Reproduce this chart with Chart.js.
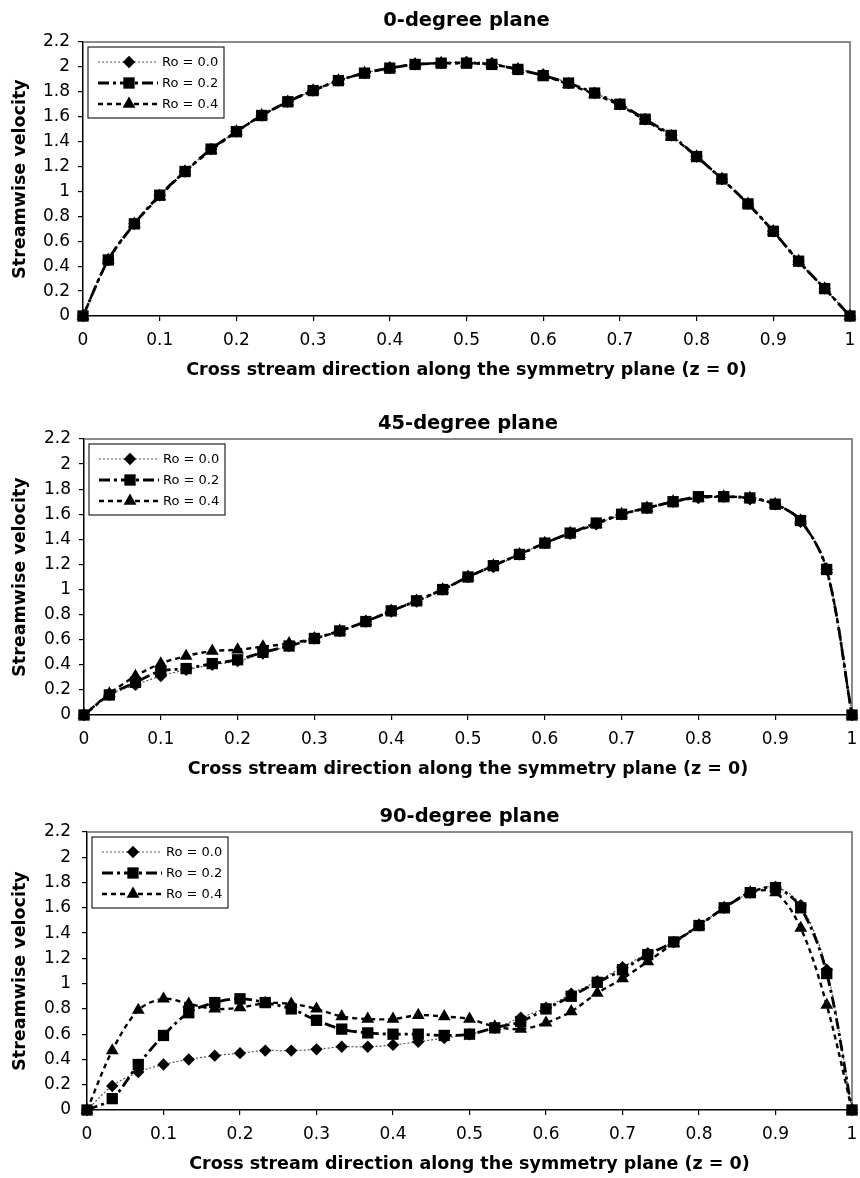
<!DOCTYPE html>
<html>
<head>
<meta charset="utf-8">
<script src="https://cdn.jsdelivr.net/npm/chart.js@4.4.1/dist/chart.umd.min.js"></script>
<style>
  html, body { margin: 0; padding: 0; background: #fff; }
  .panel { position: absolute; left: 0; width: 860px; }
</style>
</head>
<body>
<div class="panel" style="top:0"><canvas id="deg0" width="860" height="392"></canvas></div>
<div class="panel" style="top:392px"><canvas id="deg45" width="860" height="394"></canvas></div>
<div class="panel" style="top:786px"><canvas id="deg90" width="860" height="392"></canvas></div>
<script>
// cross stream positions (z) of the sampled points
const zPos = [0, 0.033, 0.067, 0.1, 0.133, 0.167, 0.2, 0.233, 0.267, 0.3, 0.333, 0.367, 0.4, 0.433, 0.467,
  0.5, 0.533, 0.567, 0.6, 0.633, 0.667, 0.7, 0.733, 0.767, 0.8, 0.833, 0.867, 0.9, 0.933, 0.967, 1];

const roLabels = ['Ro = 0.0', 'Ro = 0.2', 'Ro = 0.4'];

// 0-degree plane
const deg0Ro00 = [0, 0.45, 0.74, 0.97, 1.16, 1.34, 1.48, 1.61, 1.72, 1.81, 1.89, 1.95, 1.99, 2.02, 2.03,
  2.04, 2.03, 1.98, 1.94, 1.87, 1.79, 1.70, 1.58, 1.45, 1.28, 1.10, 0.90, 0.68, 0.44, 0.22, 0];
const deg0Ro02 = [0, 0.45, 0.74, 0.97, 1.16, 1.34, 1.48, 1.61, 1.72, 1.81, 1.89, 1.95, 1.99, 2.02, 2.03,
  2.03, 2.02, 1.98, 1.93, 1.87, 1.79, 1.70, 1.58, 1.45, 1.28, 1.10, 0.90, 0.68, 0.44, 0.22, 0];
const deg0Ro04 = [0, 0.45, 0.74, 0.96, 1.16, 1.33, 1.48, 1.61, 1.72, 1.81, 1.89, 1.95, 1.99, 2.02, 2.03,
  2.03, 2.02, 1.98, 1.93, 1.86, 1.78, 1.69, 1.57, 1.44, 1.28, 1.10, 0.90, 0.68, 0.44, 0.22, 0];

// 45-degree plane
const deg45Ro00 = [0, 0.16, 0.24, 0.31, 0.36, 0.40, 0.43, 0.49, 0.55, 0.61, 0.67, 0.745, 0.825, 0.905, 1.00,
  1.10, 1.18, 1.28, 1.37, 1.445, 1.52, 1.60, 1.65, 1.70, 1.73, 1.74, 1.72, 1.68, 1.54, 1.16, 0];
const deg45Ro02 = [0, 0.16, 0.26, 0.35, 0.37, 0.41, 0.44, 0.50, 0.55, 0.61, 0.67, 0.745, 0.83, 0.91, 1.00,
  1.10, 1.19, 1.28, 1.37, 1.45, 1.53, 1.60, 1.65, 1.70, 1.74, 1.74, 1.73, 1.68, 1.55, 1.16, 0];
const deg45Ro04 = [0, 0.17, 0.31, 0.41, 0.47, 0.51, 0.52, 0.545, 0.57, 0.61, 0.67, 0.745, 0.83, 0.91, 1.00,
  1.10, 1.19, 1.28, 1.37, 1.45, 1.52, 1.60, 1.65, 1.70, 1.73, 1.74, 1.73, 1.68, 1.55, 1.16, 0];

// 90-degree plane
const deg90Ro00 = [0, 0.19, 0.30, 0.36, 0.40, 0.43, 0.45, 0.47, 0.47, 0.48, 0.50, 0.50, 0.515, 0.54, 0.57,
  0.60, 0.65, 0.73, 0.81, 0.92, 1.02, 1.13, 1.24, 1.33, 1.46, 1.60, 1.72, 1.765, 1.62, 1.11, 0];
const deg90Ro02 = [0, 0.09, 0.36, 0.59, 0.77, 0.85, 0.88, 0.85, 0.80, 0.71, 0.64, 0.61, 0.60, 0.60, 0.59,
  0.60, 0.65, 0.70, 0.80, 0.90, 1.01, 1.11, 1.23, 1.33, 1.46, 1.60, 1.72, 1.76, 1.60, 1.08, 0];
const deg90Ro04 = [0, 0.47, 0.79, 0.88, 0.84, 0.80, 0.81, 0.845, 0.84, 0.80, 0.74, 0.72, 0.72, 0.75, 0.74,
  0.72, 0.66, 0.64, 0.69, 0.78, 0.925, 1.04, 1.175, 1.32, 1.46, 1.60, 1.72, 1.72, 1.44, 0.83, 0];

const FONT = '"DejaVu Sans", "Liberation Sans", sans-serif';

// line / marker look of each rotation number
const roStyles = [
  { color: '#555', width: 1.2, dash: [2, 2], mark: 'rectRot', size: 6.2, order: 2 },
  { color: '#000', width: 2.8, dash: [11, 4, 3, 4], mark: 'rect', size: 8, order: 0 },
  { color: '#000', width: 2.4, dash: [5, 4], mark: 'triangle', size: 7.4, order: 1 }
];

function drawMark(ctx, mark, x, y, r) {
  ctx.beginPath();
  if (mark === 'rectRot') {
    ctx.moveTo(x, y - r); ctx.lineTo(x + r, y); ctx.lineTo(x, y + r); ctx.lineTo(x - r, y);
  } else if (mark === 'rect') {
    const h = r / Math.SQRT2;
    ctx.rect(x - h, y - h, 2 * h, 2 * h);
  } else {
    for (let k = 0; k < 3; k++) {
      const a = k * 2 * Math.PI / 3;
      const px = x + Math.sin(a) * r, py = y - Math.cos(a) * r;
      if (k === 0) ctx.moveTo(px, py); else ctx.lineTo(px, py);
    }
  }
  ctx.closePath();
  ctx.fill();
}

// heading above the plot, frame round the plot, legend box in the top-left corner
const panelDecor = {
  id: 'panelDecor',
  beforeDatasetsDraw(chart, args, opts) {
    const { ctx, chartArea: a } = chart;
    ctx.save();
    ctx.strokeStyle = '#666';
    ctx.lineWidth = 1.5;
    ctx.beginPath();
    ctx.moveTo(a.left, a.top); ctx.lineTo(a.right, a.top); ctx.lineTo(a.right, a.bottom);
    ctx.stroke();
    ctx.fillStyle = '#000';
    ctx.font = 'bold 19.5px ' + FONT;
    ctx.textAlign = 'center';
    ctx.textBaseline = 'alphabetic';
    ctx.fillText(opts.heading, (a.left + a.right) / 2, opts.headingY);
    ctx.restore();
  },
  afterDatasetsDraw(chart, args, opts) {
    const { ctx, chartArea: a } = chart;
    const bx = a.left + 5, by = a.top + 5;
    ctx.save();
    ctx.fillStyle = '#fff';
    ctx.fillRect(bx, by, 136, 71);
    ctx.strokeStyle = '#222';
    ctx.lineWidth = 1.2;
    ctx.strokeRect(bx, by, 136, 71);
    roStyles.forEach((s, i) => {
      const ry = by + 15 + i * 21;
      ctx.strokeStyle = s.color;
      ctx.lineWidth = s.width;
      ctx.setLineDash(s.dash);
      ctx.beginPath();
      ctx.moveTo(bx + 10, ry); ctx.lineTo(bx + 70, ry);
      ctx.stroke();
      ctx.setLineDash([]);
      ctx.fillStyle = '#000';
      drawMark(ctx, s.mark, bx + 41, ry, s.size);
      ctx.font = '13px ' + FONT;
      ctx.textAlign = 'left';
      ctx.textBaseline = 'middle';
      ctx.fillText(roLabels[i], bx + 74, ry + 1);
    });
    ctx.restore();
  }
};

const tickText = v => String(+Number(v).toFixed(1));

function buildPanel(id, heading, headingY, series, lay) {
  return new Chart(document.getElementById(id), {
    type: 'line',
    data: {
      datasets: series.map((vals, i) => {
        const s = roStyles[i];
        return {
          label: roLabels[i],
          data: vals.map((v, j) => ({ x: zPos[j], y: v })),
          borderColor: s.color,
          borderWidth: s.width,
          borderDash: s.dash,
          pointStyle: s.mark,
          pointRadius: s.size,
          pointBackgroundColor: '#000',
          pointBorderColor: '#000',
          pointBorderWidth: 0,
          tension: 0.33,
          fill: false,
          clip: false,
          order: s.order
        };
      })
    },
    options: {
      responsive: false,
      animation: false,
      events: [],
      layout: { padding: { top: lay.top, right: lay.right, bottom: lay.bottom, left: 0 } },
      plugins: {
        legend: { display: false },
        title: { display: false },
        tooltip: { enabled: false },
        panelDecor: { heading: heading, headingY: headingY }
      },
      scales: {
        x: {
          type: 'linear',
          min: 0,
          max: 1,
          afterFit: sc => { sc.height = 66; sc.paddingLeft = 0; sc.paddingRight = 0; },
          ticks: { stepSize: 0.1, color: '#000', padding: 9.5, font: { family: FONT, size: 17 }, callback: tickText, maxRotation: 0 },
          grid: { display: true, drawOnChartArea: false, drawTicks: true, tickLength: 5, color: '#000', lineWidth: 1.2 },
          border: { display: true, color: '#000', width: 1.5 },
          title: {
            display: true,
            text: 'Cross stream direction along the symmetry plane (z = 0)',
            color: '#000',
            font: { family: FONT, size: 17.5, weight: 'bold' },
            padding: { top: 0, bottom: 1.5 }
          }
        },
        y: {
          min: 0,
          max: 2.2,
          afterFit: sc => { sc.width = lay.yw; },
          ticks: { stepSize: 0.2, color: '#000', padding: lay.ypad, font: { family: FONT, size: 17 }, callback: tickText },
          grid: { display: true, drawOnChartArea: false, drawTicks: true, tickLength: 5, color: '#000', lineWidth: 1.2 },
          border: { display: true, color: '#000', width: 1.5 },
          title: {
            display: true,
            text: 'Streamwise velocity',
            color: '#000',
            font: { family: FONT, size: 17.5, weight: 'bold' },
            padding: { top: 9.5, bottom: 0 }
          }
        }
      }
    },
    plugins: [panelDecor]
  });
}

buildPanel('deg0', '0-degree plane', 26, [deg0Ro00, deg0Ro02, deg0Ro04],
  { top: 42, right: 10, bottom: 10, yw: 83, ypad: 8 });
buildPanel('deg45', '45-degree plane', 37, [deg45Ro00, deg45Ro02, deg45Ro04],
  { top: 47, right: 6, bottom: 5, yw: 84, ypad: 8 });
buildPanel('deg90', '90-degree plane', 36, [deg90Ro00, deg90Ro02, deg90Ro04],
  { top: 46, right: 2, bottom: 2, yw: 87, ypad: 11 });
</script>
</body>
</html>
